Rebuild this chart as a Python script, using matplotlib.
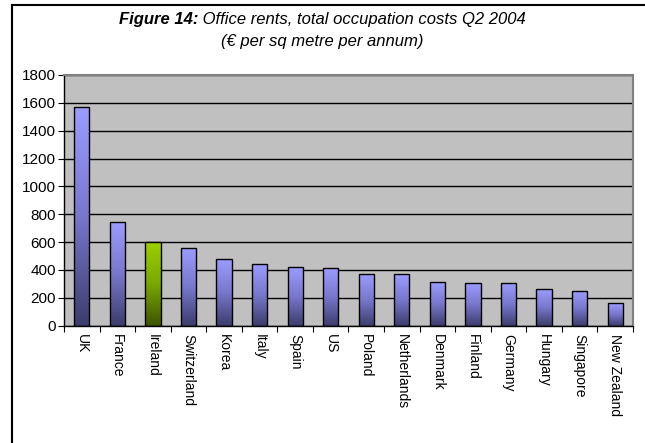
import matplotlib.pyplot as plt
import numpy as np
from matplotlib.colors import LinearSegmentedColormap
from matplotlib.lines import Line2D

plt.rcParams['font.family'] = ['Liberation Sans', 'DejaVu Sans']

countries = ['UK', 'France', 'Ireland', 'Switzerland', 'Korea', 'Italy', 'Spain', 'US',
             'Poland', 'Netherlands', 'Denmark', 'Finland', 'Germany', 'Hungary',
             'Singapore', 'New Zealand']
costs = [1570, 745, 600, 555, 475, 440, 420, 410, 370, 370, 315, 305, 305, 265, 248, 160]
highlight = 'Ireland'

blue_grad = LinearSegmentedColormap.from_list('blue_grad', ['#3c3c6c', '#7777cc', '#9c9cff'])
green_grad = LinearSegmentedColormap.from_list('green_grad', ['#3c5400', '#78a800', '#9ccf00'])

fig = plt.figure(figsize=(6.45, 4.43), dpi=100)
ax = fig.add_axes([0.0992, 0.2652, 0.8822, 0.5655])
ax.set_facecolor('#c0c0c0')

x = np.arange(len(countries))
bars = ax.bar(x, costs, width=0.43, color='none', edgecolor='black', linewidth=1.0, zorder=3)

# vertical gradient fill clipped to each bar
grad = np.linspace(0, 1, 256).reshape(-1, 1)
for name, bar in zip(countries, bars):
    cmap = green_grad if name == highlight else blue_grad
    bx, bw, bh = bar.get_x(), bar.get_width(), bar.get_height()
    im = ax.imshow(grad, cmap=cmap, origin='lower', aspect='auto',
                   extent=(bx, bx + bw, 0, bh), zorder=2)
    im.set_clip_path(bar)

ax.set_xlim(-0.5, len(countries) - 0.5)
ax.set_ylim(0, 1800)
ax.set_yticks(range(0, 1801, 200))
ax.yaxis.grid(True, color='black', linewidth=1.0, zorder=1)
ax.set_axisbelow(True)

# ticks between categories, labels centred under bars
ax.set_xticks(np.arange(-0.5, len(countries), 1.0))
ax.set_xticklabels([])
ax.set_xticks(x, minor=True)
ax.set_xticklabels(countries, minor=True, rotation=270, fontsize=10, va='top', ha='center')
ax.tick_params(axis='x', which='minor', length=0, pad=6)
ax.tick_params(axis='x', which='major', length=4, direction='out', color='black')
ax.tick_params(axis='y', length=4, direction='out', labelsize=11, pad=2)

for side in ('left', 'bottom'):
    ax.spines[side].set_color('black')
    ax.spines[side].set_linewidth(1.0)
for side in ('top', 'right'):
    ax.spines[side].set_color('#808080')
    ax.spines[side].set_linewidth(1.5)

# two-part title: bold label followed by plain italic text
title_y = 0.955
t1 = fig.text(0, title_y, 'Figure 14:', fontsize=12, fontweight='bold', fontstyle='italic',
              ha='left', va='center')
t2 = fig.text(0, title_y, ' Office rents, total occupation costs Q2 2004', fontsize=12,
              fontstyle='italic', ha='left', va='center')
fig.canvas.draw()
w1 = t1.get_window_extent().width
w2 = t2.get_window_extent().width
left = (fig.bbox.width - w1 - w2) / 2
t1.set_x(left / fig.bbox.width)
t2.set_x((left + w1) / fig.bbox.width)
fig.text(0.5, 0.907, '(€ per sq metre per annum)', fontsize=12, fontstyle='italic',
         ha='center', va='center')

# outer chart frame
fig.add_artist(Line2D([12 / 645, 12 / 645], [0, 1 - 5 / 443], color='black', linewidth=1.5,
                      transform=fig.transFigure))
fig.add_artist(Line2D([12 / 645, 1], [1 - 5 / 443, 1 - 5 / 443], color='black', linewidth=1.5,
                      transform=fig.transFigure))

fig.savefig('out.png', dpi=100, facecolor='white')
